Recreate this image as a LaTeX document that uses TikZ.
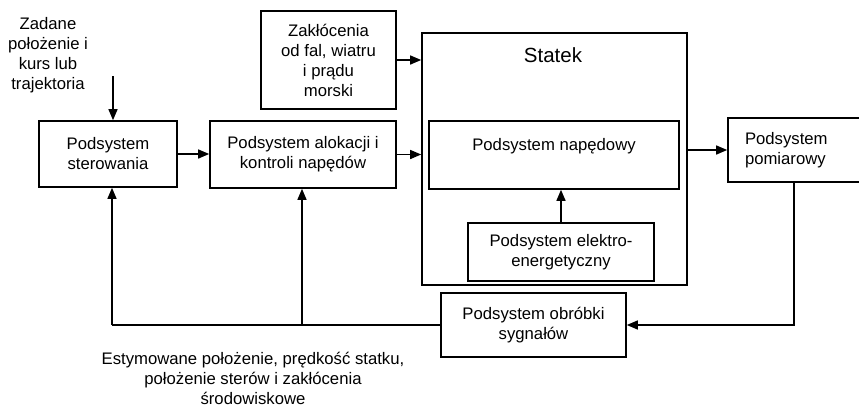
\documentclass[tikz,border=0pt]{standalone}
\usepackage{fontspec}
\setmainfont{Liberation Sans}
\usetikzlibrary{arrows.meta}
\begin{document}
\begin{tikzpicture}[x=1pt,y=-1pt,
  box/.style={draw,line width=1.6pt,inner sep=0pt,align=center,font=\fontsize{16.7}{20}\selectfont},
  txt/.style={inner sep=0pt,align=center,font=\fontsize{16.7}{20}\selectfont},
  conn/.style={line width=1.4pt},
  arr/.style={conn,-{Triangle[length=11pt,width=9pt]}}]
\path[use as bounding box, clip] (0,0) rectangle (859,407);
\node[txt] (zad) at (48,55) {Zadane\\położenie i\\kurs lub\\trajektoria};
\node[box,minimum width=138pt,minimum height=66pt] (ster) at (108,154) {Podsystem\\sterowania};
\node[box,minimum width=186pt,minimum height=67pt] (alok) at (303,154.5) {Podsystem alokacji i\\kontroli napędów};
\node[box,minimum width=135pt,minimum height=98pt] (zak) at (328.5,60) {Zakłócenia\\od fal, wiatru\\i prądu\\morski};
\node[box,minimum width=265pt,minimum height=252pt] (statek) at (554.5,159) {};
\node[txt,font=\fontsize{20.5}{24}\selectfont] (statektxt) at (553,55) {Statek};
\node[box,minimum width=250pt,minimum height=68pt] (naped) at (554,155) {};
\node[txt] (napedtxt) at (554,146) {Podsystem napędowy};
\node[box,minimum width=186pt,minimum height=58pt] (elek) at (561,252) {Podsystem elektro-\\energetyczny};
\node[box,minimum width=185pt,minimum height=64pt] (obr) at (533.5,325) {Podsystem obróbki\\sygnałów};
\node[box,minimum width=150pt,minimum height=64pt,text width=116pt,align=left] (pom) at (803,150) {Podsystem\\pomiarowy};
\node[txt] (est) at (253,378) {Estymowane położenie, prędkość statku,\\położenie sterów i zakłócenia\\środowiskowe};
\coordinate (zin) at (113,76);
\coordinate (pcorner) at (794,325);
\coordinate (fb1) at (112,325);
\coordinate (fb2) at (302,325);
\draw[arr] (zin) -- (zin |- ster.north);
\draw[arr] (ster.east) -- (ster.east -| alok.west);
\draw[arr] (alok.east) -- (alok.east -| statek.west);
\draw[arr] (zak.east) -- (zak.east -| statek.west);
\draw[arr] (statek.east |- pom.west) -- (pom.west);
\draw[arr] (elek.north) -- (elek.north |- naped.south);
\draw[arr] (pcorner |- pom.south) -- (pcorner) -- (obr.east);
\draw[conn] (obr.west) -- (fb1);
\draw[arr] (fb1) -- (fb1 |- ster.south);
\draw[arr] (fb2) -- (fb2 |- alok.south);
\end{tikzpicture}
\end{document}
